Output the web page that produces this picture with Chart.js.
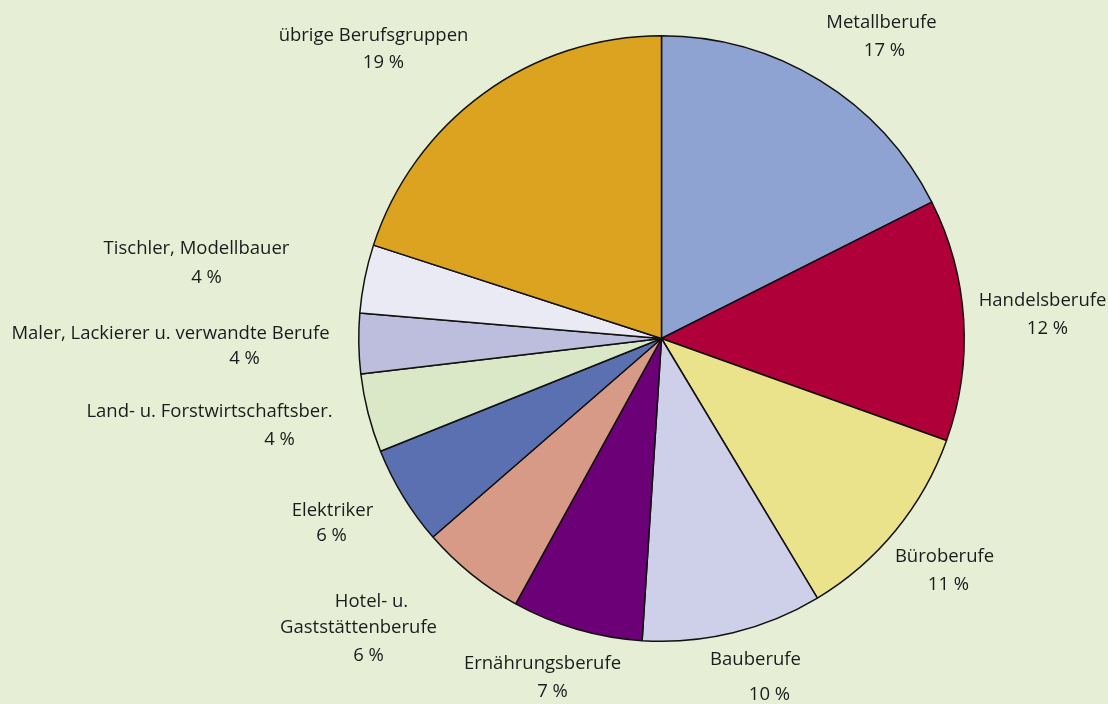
<!DOCTYPE html>
<html>
<head>
    <title>Berufsgruppen</title>
    <meta charset="utf-8">
    <script src="https://cdn.jsdelivr.net/npm/chart.js@4.4.0/dist/chart.umd.min.js"></script>
    <style>
        html, body { margin: 0; padding: 0; background: #e6efd6; }
        #wrap { width: 1108px; height: 704px; }
    </style>
</head>
<body>

<div id="wrap"><canvas id="myChart" width="1108" height="704"></canvas></div>

<script>
// categories and shares (slice sizes, in %)
const categories = ['Metallberufe', 'Handelsberufe', 'Büroberufe', 'Bauberufe', 'Ernährungsberufe',
    'Hotel- u. Gaststättenberufe', 'Elektriker', 'Land- u. Forstwirtschaftsber.',
    'Maler, Lackierer u. verwandte Berufe', 'Tischler, Modellbauer', 'übrige Berufsgruppen'];
const shares = [17.56, 12.91, 10.92, 9.63, 6.98, 5.62, 5.31, 4.2, 3.21, 3.65, 20.01];
const pctLabels = ['17 %', '12 %', '11 %', '10 %', '7 %', '6 %', '6 %', '4 %', '4 %', '4 %', '19 %'];
// how the names are broken into lines
const nameLines = [['Metallberufe'], ['Handelsberufe'], ['Büroberufe'], ['Bauberufe'], ['Ernährungsberufe'],
    ['Hotel- u.', 'Gaststättenberufe'], ['Elektriker'], ['Land- u. Forstwirtschaftsber.'],
    ['Maler, Lackierer u. verwandte Berufe'], ['Tischler, Modellbauer'], ['übrige Berufsgruppen']];

const sliceColors = ['#8fa3d3', '#b0003a', '#ebe38b', '#cdd0e8', '#6b0077',
    '#d79a86', '#5a70b0', '#dbe8c7', '#bdbedd', '#eaeaf5', '#dca321'];

// label anchors, offsets from the pie centre (px): first name line, then the % line
const nameOffset = [[220, -316], [381, -38], [283, 218], [94, 321], [-119, 325],
    [-290, 263], [-329, 172], [-452, 73], [-491, -5], [-465, -90], [-288, -303]];
const pctOffset = [[223, -288], [386, -10], [287, 246], [108, 356], [-109, 353],
    [-293, 317], [-330, 197], [-382, 101], [-417, 20], [-455, -61], [-278, -276]];

const labelPlugin = {
    id: 'sliceLabels',
    afterDatasetsDraw(chart) {
        const ctx = chart.ctx;
        const arc = chart.getDatasetMeta(0).data[0];
        ctx.save();
        ctx.font = '18.5px "Open Sans"';
        ctx.fillStyle = '#1c1c1c';
        ctx.textAlign = 'center';
        ctx.textBaseline = 'middle';
        nameLines.forEach(function(lines, i) {
            lines.forEach(function(t, j) {
                // second line of a wrapped name sits a bit left (Gaststättenberufe)
                const dx = j === 0 ? 0 : -13;
                ctx.fillText(t, arc.x + nameOffset[i][0] + dx, arc.y + nameOffset[i][1] + j * 26);
            });
            ctx.fillText(pctLabels[i], arc.x + pctOffset[i][0], arc.y + pctOffset[i][1]);
        });
        ctx.restore();
    }
};

let ctx = document.getElementById('myChart').getContext('2d');
let myChart = new Chart(ctx, {
    type: 'pie',
    data: {
        labels: categories,
        datasets: [{
            data: shares,
            backgroundColor: sliceColors,
            borderColor: '#111111',
            borderWidth: 1.5
        }]
    },
    options: {
        responsive: false,
        animation: false,
        layout: {
            padding: { left: 215, right: 0, top: 35, bottom: 62 }
        },
        plugins: {
            legend: { display: false },
            tooltip: { enabled: false }
        }
    },
    plugins: [labelPlugin]
});
</script>

</body>
</html>
